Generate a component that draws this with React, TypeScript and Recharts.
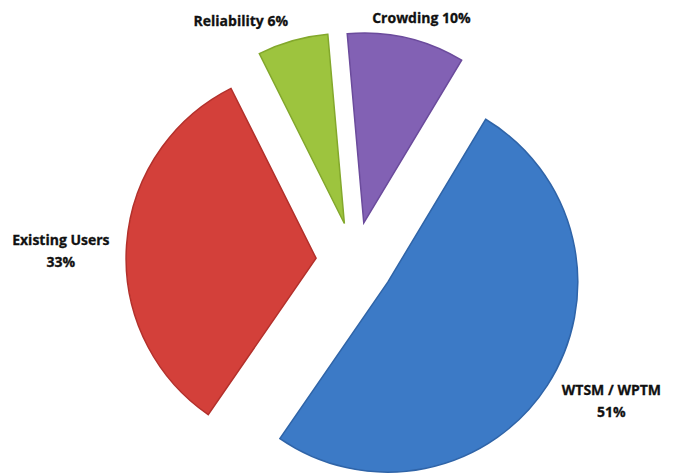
import { PieChart, Pie, Cell, Sector } from 'recharts'

// pie values, clockwise from the top
const categories = ['Crowding', 'WTSM / WPTM', 'Existing Users', 'Reliability']
const shares = [10, 51, 33, 6]
const colors = ['#8261b4', '#3c7ac6', '#d3403a', '#9dc43e']
const edgeColors = ['#6b4b9c', '#2f64a8', '#b3302b', '#83a82c']

const data = categories.map((name, i) => ({ name, value: shares[i] }))

const RADIAN = Math.PI / 180
const EXPLODE = 39
const LABEL_FONT = "bold 14px 'Open Sans'"

let ctx: CanvasRenderingContext2D | null = null
function textWidth(s: string) {
  if (!ctx) ctx = document.createElement('canvas').getContext('2d')
  if (!ctx) return s.length * 7
  ctx.font = LABEL_FONT
  return ctx.measureText(s).width
}

// each slice is pushed out from the centre along its own mid angle
function ExplodedSlice(props: any) {
  const { cx, cy, midAngle } = props
  const dx = EXPLODE * Math.cos(-midAngle * RADIAN)
  const dy = EXPLODE * Math.sin(-midAngle * RADIAN)
  return <Sector {...props} cx={cx + dx} cy={cy + dy} />
}

function SliceLabel(props: any) {
  const { cx, cy, midAngle, outerRadius, percent, name } = props
  const ux = Math.cos(-midAngle * RADIAN)
  const uy = Math.sin(-midAngle * RADIAN)
  const dist = outerRadius + EXPLODE + 17
  const ax = cx + dist * ux
  const ay = cy + dist * uy
  const pct = `${Math.round(percent * 100)}%`
  const side = Math.abs(ux) > 0.7
  const lines = side ? [name, pct] : [`${name} ${pct}`]
  const w = Math.max(...lines.map(textWidth))
  const h = lines.length * 20
  let x: number
  let y: number
  if (side) {
    // side labels sit beside their anchor, centred on it vertically
    x = ax + Math.sign(ux) * (w / 2)
    y = ay
  } else {
    x = ux < 0 ? ax - w / 2 : ax + ux * (w / 2)
    y = ay + uy * (h / 2)
  }
  const top = y - h / 2 + 21
  return (
    <text
      x={x}
      y={top}
      textAnchor="middle"
      fontFamily="'Open Sans', sans-serif"
      fontWeight={700}
      fontSize={14}
      fill="#111"
      stroke="#111"
      strokeWidth={0.3}
    >
      {lines.map((l, i) => (
        <tspan key={i} x={x} dy={i === 0 ? 0 : 22}>
          {l}
        </tspan>
      ))}
    </text>
  )
}

export default function App() {
  return (
    <div style={{ position: 'fixed', left: 0, top: 0, background: '#fff' }}>
      <PieChart width={679} height={476} margin={{ top: 0, right: 0, bottom: 0, left: 0 }}>
        <Pie
          data={data}
          dataKey="value"
          nameKey="name"
          cx={355}
          cy={261}
          outerRadius={190}
          startAngle={95}
          endAngle={-265}
          shape={ExplodedSlice}
          label={SliceLabel}
          labelLine={false}
          isAnimationActive={false}
        >
          {data.map((d, i) => (
            <Cell key={d.name} fill={colors[i]} stroke={edgeColors[i]} strokeWidth={1.5} />
          ))}
        </Pie>
      </PieChart>
    </div>
  )
}
